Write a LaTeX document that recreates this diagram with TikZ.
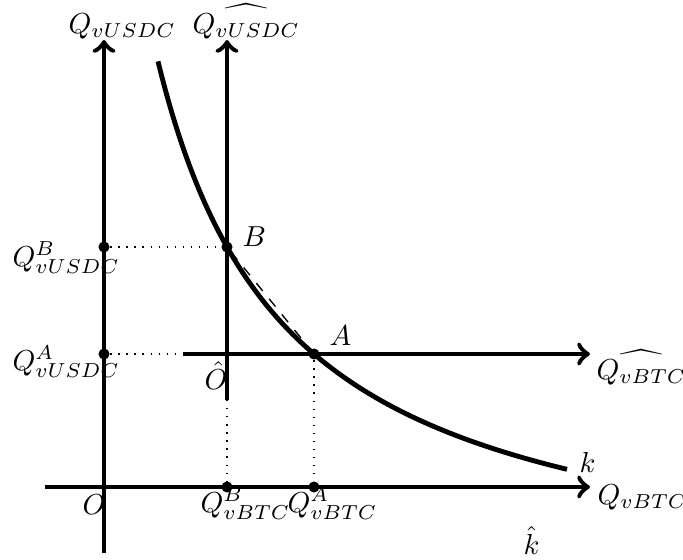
\documentclass[tikz,border=0pt]{standalone}
\usepackage{amsmath}
\begin{document}
\begin{tikzpicture}[x=0.2976pt,y=-0.2976pt,
  axis/.style={line width=1.45pt,->},
  curve/.style={line width=1.45pt},
  guide/.style={dotted},
  chord/.style={dashed},
  pt/.style={circle,fill,inner sep=0pt,minimum size=3.3pt},
  lbl/.style={anchor=base west,inner sep=0pt,scale=0.86}]
\useasboundingbox (0,0) rectangle (683,560);
% coordinates
\coordinate (yb) at (104,553);
\coordinate (yt) at (104,40);
\coordinate (xl) at (45,487);
\coordinate (xr) at (590,487);
\coordinate (hyb) at (227,400);
\coordinate (hyt) at (227,40);
\coordinate (hxl) at (183,354);
\coordinate (hxr) at (590,354);
% axes
\draw[axis] (yb) -- (yt);
\draw[axis] (xl) -- (xr);
\draw[axis] (hyb) -- (hyt);
\draw[axis] (hxl) -- (hxr);
% curve
\draw[curve] plot[domain=158:567,samples=120] (\x,{600.3-707.66/((\x-26.7)/100)});
% points
\node[pt] (B) at (227,247) {};
\node[pt] (A) at (314,354) {};
\node[pt] (QBu) at (104,247) {};
\node[pt] (QAu) at (104,354) {};
\node[pt] (QBb) at (227,487) {};
\node[pt] (QAb) at (314,487) {};
% guides
\draw[guide] (QBu) -- (B);
\draw[guide] (QAu) -- (hxl);
\draw[guide] (hyb) -- (QBb);
\draw[guide] (A) -- (QAb);
\draw[chord] (B) -- (A);
% labels
\node[lbl] (lQu) at (68,33) {$Q_{vUSDC}$};
\node[lbl] (lhQu) at (192,33) {$\widehat{Q_{vUSDC}}$};
\node[lbl] (lhQb) at (596,379) {$\widehat{Q_{vBTC}}$};
\node[lbl] (lQb) at (597,504) {$Q_{vBTC}$};
\node[lbl] (lQBu) at (12,266) {$Q^B_{vUSDC}$};
\node[lbl] (lQAu) at (12,370) {$Q^A_{vUSDC}$};
\node[lbl] (lQBb) at (200,512) {$Q^B_{vBTC}$};
\node[lbl] (lQAb) at (287,512) {$Q^A_{vBTC}$};
\node[lbl] (lO) at (82,514) {$O$};
\node[lbl] (lhO) at (204,389) {$\hat{O}$};
\node[lbl] (lB) at (242,246) {$B$};
\node[lbl] (lA) at (329,345) {$A$};
\node[lbl] (lk) at (579,472) {$k$};
\node[lbl] (lhk) at (523,554) {$\hat{k}$};
\end{tikzpicture}
\end{document}
